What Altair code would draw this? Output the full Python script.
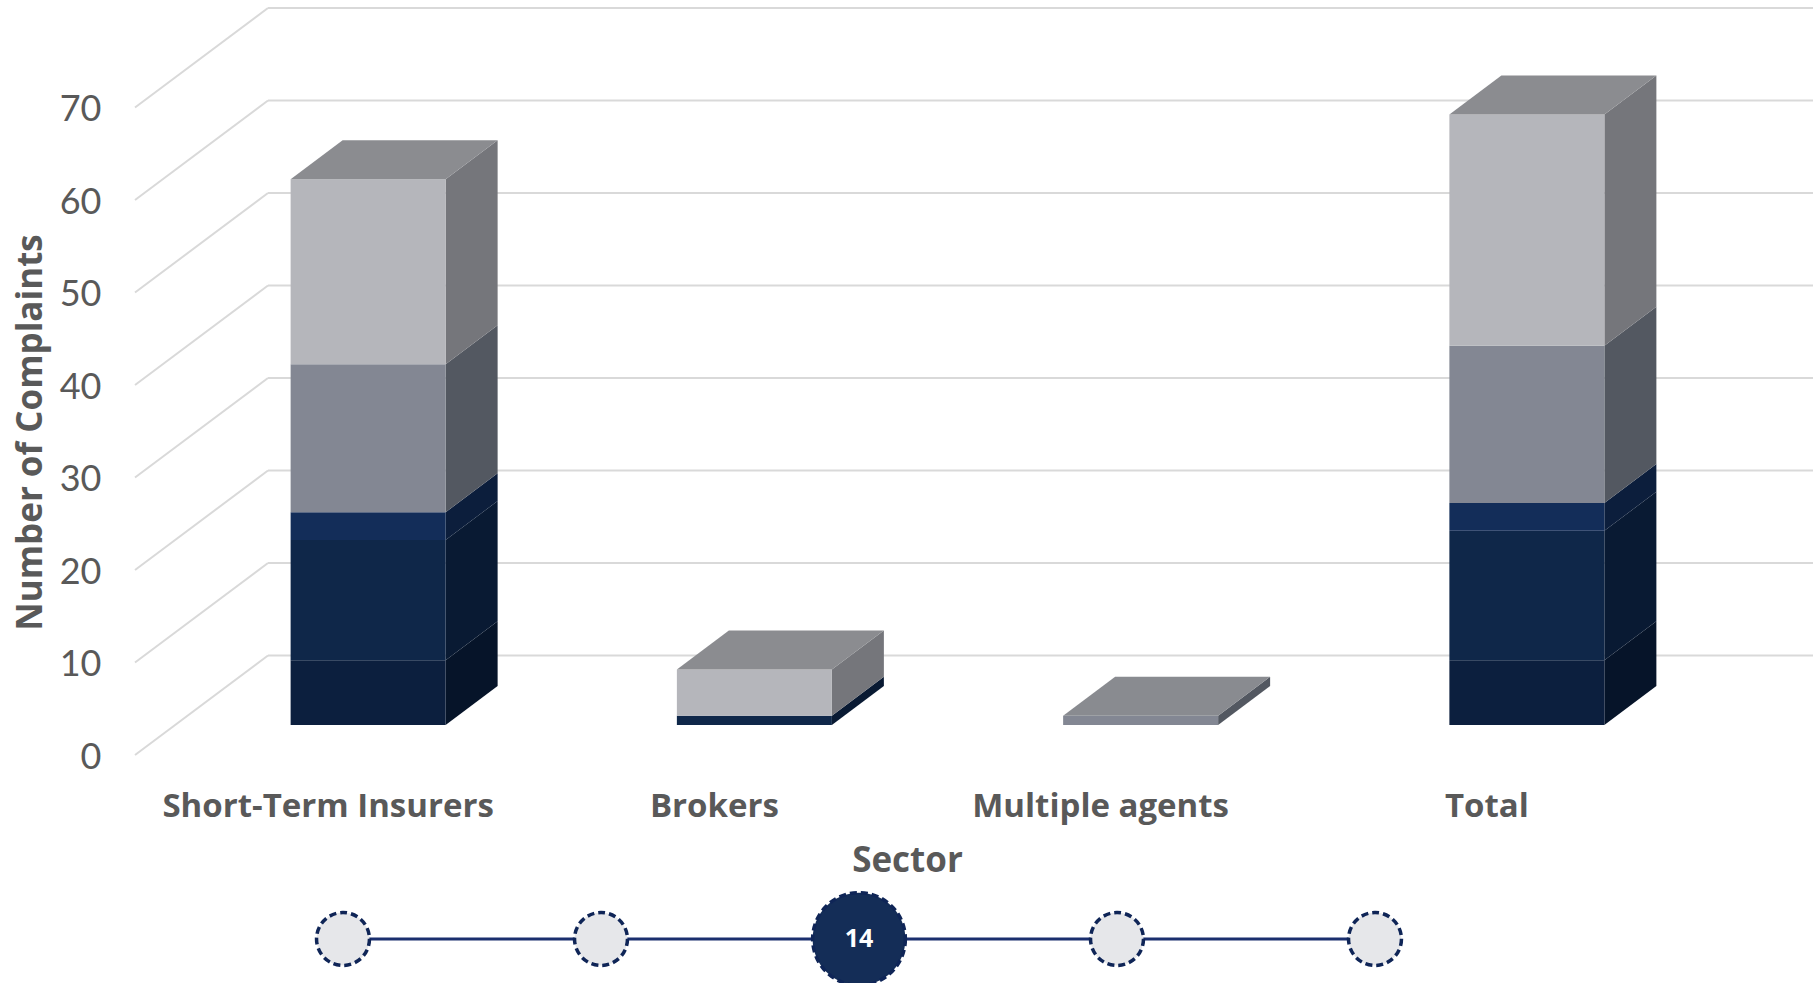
import altair as alt
import pandas as pd

# ---------------- data ----------------
sectors = ["Short-Term Insurers", "Brokers", "Multiple agents", "Total"]
series_names = ["Series 1", "Series 2", "Series 3", "Series 4", "Series 5"]
series_1 = [7, 0, 0, 7]
series_2 = [13, 1, 0, 14]
series_3 = [3, 0, 0, 3]
series_4 = [16, 0, 1, 17]
series_5 = [20, 5, 0, 25]
y_ticks = [0, 10, 20, 30, 40, 50, 60, 70]
page_labels = ["", "", "14", "", ""]

front_colors = ["#0c1f3e", "#0f2749", "#132d59", "#838793", "#b5b6bb"]
side_colors = ["#061429", "#091a33", "#0c1e3c", "#535861", "#75767b"]
top_colors = ["#8a8b90", "#8a8b90", "#8a8b90", "#898b90", "#8b8c90"]

# ---------------- layout constants (pixels) ----------------
W, H = 1678, 983          # plot area
LEFT = 135
K = 9.25                  # px per complaint
Y0 = 755                  # page y of value 0 on the front plane
WALL_DX, WALL_DY = 133, 99.5
FRONT_DX, FRONT_DY = 40, 30
DEPTH_DX, DEPTH_DY = 52, 39
BAR_W = 155
SLOT = (W - WALL_DX) / len(sectors)
LABEL_Y_PX = 807
TITLE_Y_PX = 861
DOT_Y_PX = 939
DOT_X0, DOT_STEP = 208, 258

ymin, ymax = (Y0 - H) / K, Y0 / K
F = FRONT_DY / K
D = DEPTH_DY / K
WALL = WALL_DY / K

yscale = alt.Scale(domain=[ymin, ymax], nice=False, zero=False)
xscale = alt.Scale(domain=[0, W], nice=False, zero=False)

# ---------------- build tables ----------------
series = [series_1, series_2, series_3, series_4, series_5]
front_rows, side_rows, top_rows = [], [], []
for i, sec in enumerate(sectors):
    c = SLOT * (i + 0.5) + FRONT_DX
    xl, xr = c - BAR_W / 2, c + BAR_W / 2
    base = 0.0
    last = None
    for j, s in enumerate(series):
        v = s[i]
        if v <= 0:
            continue
        lo, hi = base, base + v
        front_rows.append(dict(sector=sec, series=series_names[j], x=xl, x2=xr,
                               y=lo + F, y2=hi + F, color=front_colors[j], value=v))
        sid = f"{i}-{j}"
        side_rows.append(dict(id=sid, x=xr, lo=lo + F, hi=hi + F, color=side_colors[j]))
        side_rows.append(dict(id=sid, x=xr + DEPTH_DX, lo=lo + F + D, hi=hi + F + D, color=side_colors[j]))
        base = hi
        last = j
    t = base + F
    tid = f"top{i}"
    tc = top_colors[last]
    top_rows += [
        dict(id=tid, x=xl, lo=t, hi=t, color=tc),
        dict(id=tid, x=xl + DEPTH_DX, lo=t, hi=t + D, color=tc),
        dict(id=tid, x=xr, lo=t, hi=t + D, color=tc),
        dict(id=tid, x=xr + DEPTH_DX, lo=t + D, hi=t + D, color=tc),
    ]

front_df = pd.DataFrame(front_rows)
side_df = pd.DataFrame(side_rows)
top_df = pd.DataFrame(top_rows)

grid_df = pd.DataFrame({"g": y_ticks})
grid_df["gb"] = grid_df["g"] + WALL
grid_df["x0"] = 0
grid_df["xw"] = WALL_DX
grid_df["xe"] = W

label_df = pd.DataFrame({"sector": sectors})
label_df["x"] = [SLOT * (i + 0.5) for i in range(len(sectors))]
label_df["y"] = (Y0 - LABEL_Y_PX) / K

title_df = pd.DataFrame({"t": ["Sector"], "x": [SLOT * len(sectors) / 2], "y": [(Y0 - TITLE_Y_PX) / K]})

dots_df = pd.DataFrame({"label": page_labels})
dots_df["x"] = [DOT_X0 + DOT_STEP * i for i in range(len(page_labels))]
dots_df["y"] = (Y0 - DOT_Y_PX) / K
dots_df["active"] = dots_df["label"] != ""
line_df = pd.DataFrame({"x": [dots_df["x"].min()], "x2": [dots_df["x"].max()], "y": [(Y0 - DOT_Y_PX) / K]})

GRID = "#d9d9d9"
TXT = "#595959"

y_axis = alt.Axis(values=y_ticks, ticks=False, domain=False, grid=False,
                  labelFontSize=36, labelFont="Lato", labelFontWeight="normal", labelColor=TXT,
                  labelPadding=34, labelOffset=2, title="Number of Complaints", titleFont="Open Sans",
                  titleFontSize=35, titleFontWeight="bold", titleColor=TXT,
                  titleX=-105, titleY=432, titleAlign="center", titleBaseline="middle")


def X(f):
    return alt.X(f, scale=xscale, axis=None)


def Y(f, **kw):
    return alt.Y(f, scale=yscale, axis=y_axis, **kw)


back = alt.Chart(grid_df).mark_rule(color=GRID, strokeWidth=2).encode(
    x=X("xw:Q"), x2="xe:Q", y=Y("gb:Q"))

diag = alt.Chart(grid_df).mark_rule(color=GRID, strokeWidth=2).encode(
    x=X("x0:Q"), x2="xw:Q", y=Y("g:Q"), y2="gb:Q")

side = alt.Chart(side_df).mark_area(orient="vertical", interpolate="linear").encode(
    x=X("x:Q"), y=Y("lo:Q", stack=None), y2="hi:Q",
    detail="id:N", color=alt.Color("color:N", scale=None))

front = alt.Chart(front_df).mark_rect().encode(
    x=X("x:Q"), x2="x2:Q", y=Y("y:Q"), y2="y2:Q",
    color=alt.Color("color:N", scale=None),
    tooltip=["sector:N", "series:N", "value:Q"])

top = alt.Chart(top_df).mark_area(orient="vertical", interpolate="linear").encode(
    x=X("x:Q"), y=Y("lo:Q", stack=None), y2="hi:Q",
    detail="id:N", color=alt.Color("color:N", scale=None))

labels = alt.Chart(label_df).mark_text(font="Open Sans", fontSize=33, fontWeight="bold", color=TXT,
                                       align="center", baseline="middle").encode(
    x=X("x:Q"), y=Y("y:Q"), text="sector:N")

xtitle = alt.Chart(title_df).mark_text(font="Open Sans", fontSize=35, fontWeight="bold", color=TXT,
                                       align="center", baseline="middle").encode(
    x=X("x:Q"), y=Y("y:Q"), text="t:N")

conn = alt.Chart(line_df).mark_rule(color="#1b2f6e", strokeWidth=3).encode(
    x=X("x:Q"), x2="x2:Q", y=Y("y:Q"))

dots = alt.Chart(dots_df).mark_point(shape="circle", filled=False, strokeWidth=3.5, opacity=1,
                                     strokeDash=[7, 4], stroke="#0f2557").encode(
    x=X("x:Q"), y=Y("y:Q"),
    fill=alt.condition("datum.active", alt.value("#142d57"), alt.value("#e6e7ea")),
    fillOpacity=alt.value(1),
    size=alt.condition("datum.active", alt.value(8600), alt.value(2800)))

dot_text = alt.Chart(dots_df).mark_text(font="Open Sans", fontSize=25, fontWeight="bold",
                                        color="white", align="center", baseline="middle").encode(
    x=X("x:Q"), y=Y("y:Q"), text="label:N")

chart = alt.layer(back, diag, side, front, top, labels, xtitle, conn, dots, dot_text).properties(
    width=W, height=H, autosize="none",
    padding={"left": LEFT, "top": 0, "right": 0, "bottom": 0},
    background="white",
).configure_view(stroke=None)

chart.save("out.html", embed_options={"renderer": "svg", "actions": False})
